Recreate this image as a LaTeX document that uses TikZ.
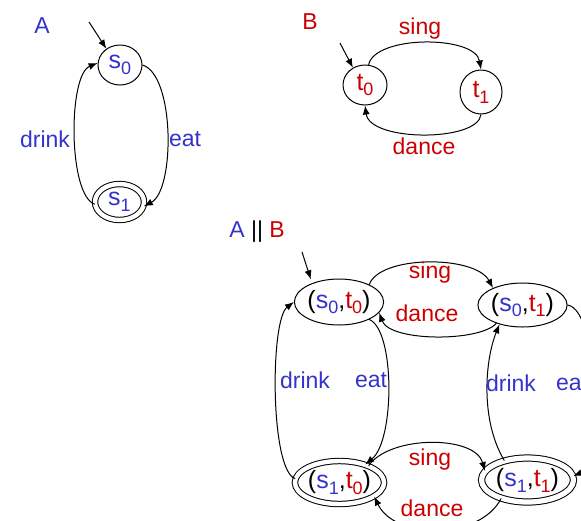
\documentclass[tikz,border=0pt]{standalone}
\usepackage{fontspec}
\setmainfont{Liberation Sans}
\usetikzlibrary{shapes.geometric,arrows.meta}
\definecolor{ablue}{RGB}{51,51,204}
\definecolor{bred}{RGB}{204,0,0}
\newcommand{\subidx}[1]{\raisebox{-0.45ex}{\fontsize{9}{9}\selectfont #1}}
\newcommand{\sA}[1]{{\color{ablue}s\subidx{#1}}}
\newcommand{\tB}[1]{{\color{bred}t\subidx{#1}}}

\begin{document}
\begin{tikzpicture}[x=0.5pt, y=-0.5pt,
  every node/.style={font=\fontsize{11.5}{13}\selectfont},
  state/.style={ellipse, draw, line width=0.5pt, inner sep=0pt, font=\fontsize{12.5}{14}\selectfont},
  accept/.style={state, double, double distance=2.2pt},
  trans/.style={line width=0.5pt, -{Latex[length=4.5pt,width=3.5pt]}},
  lblA/.style={text=ablue, inner sep=1pt},
  lblB/.style={text=bred, inner sep=1pt}]
  \useasboundingbox (0,0) rectangle (581,520);
  \clip (0,0) rectangle (581,520);

  % Automaton A
  \node[lblA] (nameA) at (42,26) {A};
  \node[state, minimum width=22pt, minimum height=20pt] (s0) at (120,65) {\sA{0}};
  \node[accept, minimum width=24.5pt, minimum height=18pt] (s1) at (119.5,202) {\sA{1}};
  \coordinate (initA) at (89,22);
  \draw[trans] (initA) -- (s0.130);
  \draw[trans] (s0.east) .. controls (175,75) and (175,190) .. (s1.-10);
  \draw[trans] (s1.185) .. controls (68,195) and (68,75) .. (s0.175);
  \node[lblA] (drinkA) at (45,139) {drink};
  \node[lblA] (eatA) at (185,139) {eat};

  % Automaton B
  \node[lblB] (nameB) at (310,22) {B};
  \node[state, minimum width=22pt, minimum height=20pt] (t0) at (365,85) {\tB{0}};
  \node[state, minimum width=21pt, minimum height=22pt] (t1) at (481,92) {\tB{1}};
  \coordinate (initB) at (340,43);
  \draw[trans] (initB) -- (t0.125);
  \draw[trans] (t0.80) .. controls (375,35) and (475,35) .. (t1.90);
  \draw[trans] (t1.-90) .. controls (478,142) and (370,142) .. (t0.-90);
  \node[lblB] (singB) at (420,29) {sing};
  \node[lblB] (danceB) at (424,146) {dance};

  % Product A || B
  \node (nameAB) at (257,232) {{\color{ablue}A} || {\color{bred}B}};
  \node[state, minimum width=41pt, minimum height=23pt] (s0t0) at (339,302) {(\sA{0},\tB{0})};
  \node[state, minimum width=40pt, minimum height=22pt] (s0t1) at (522.5,305) {(\sA{0},\tB{1})};
  \node[accept, minimum width=44pt, minimum height=21.5pt] (s1t0) at (339.5,482.5) {(\sA{1},\tB{0})};
  \node[accept, minimum width=46pt, minimum height=22pt, double distance=2.6pt] (s1t1) at (527.5,480) {(\sA{1},\tB{1})};
  \coordinate (initAB) at (302,252);
  \draw[trans, shorten >=2pt] (initAB) -- (s0t0.145);

  % sing / dance
  \draw[trans] (s0t0.30) .. controls (380,255) and (475,255) .. (s0t1.150);
  \draw[trans] (s0t1.215) .. controls (480,342) and (390,342) .. (s0t0.-15);
  \draw[trans] (s1t0.30) .. controls (390,435) and (475,435) .. (s1t1.168);
  \draw[trans] (s1t1.215) .. controls (480,540) and (395,540) .. (s1t0.-22);
  \node[lblB] (singT) at (430,273) {sing};
  \node[lblB] (danceT) at (427,313) {dance};
  \node[lblB] (singD) at (430,460) {sing};
  \node[lblB] (danceD) at (432,508) {dance};

  % drink / eat
  \draw[trans] (s1t0.175) .. controls (270,470) and (270,320) .. (s0t0.180);
  \draw[trans] (s0t0.-30) .. controls (395,330) and (395,440) .. (s1t0.35);
  \draw[trans] (s1t1.140) .. controls (480,420) and (485,360) .. (s0t1.-140);
  \draw[trans] (s0t1.0) .. controls (600,310) and (600,465) .. (s1t1.5);
  \node[lblA] (drinkL) at (305,380) {drink};
  \node[lblA] (eatL) at (371,380) {eat};
  \node[lblA] (drinkR) at (511,383) {drink};
  \node[lblA] (eatR) at (572,383) {eat};
\end{tikzpicture}
\end{document}
